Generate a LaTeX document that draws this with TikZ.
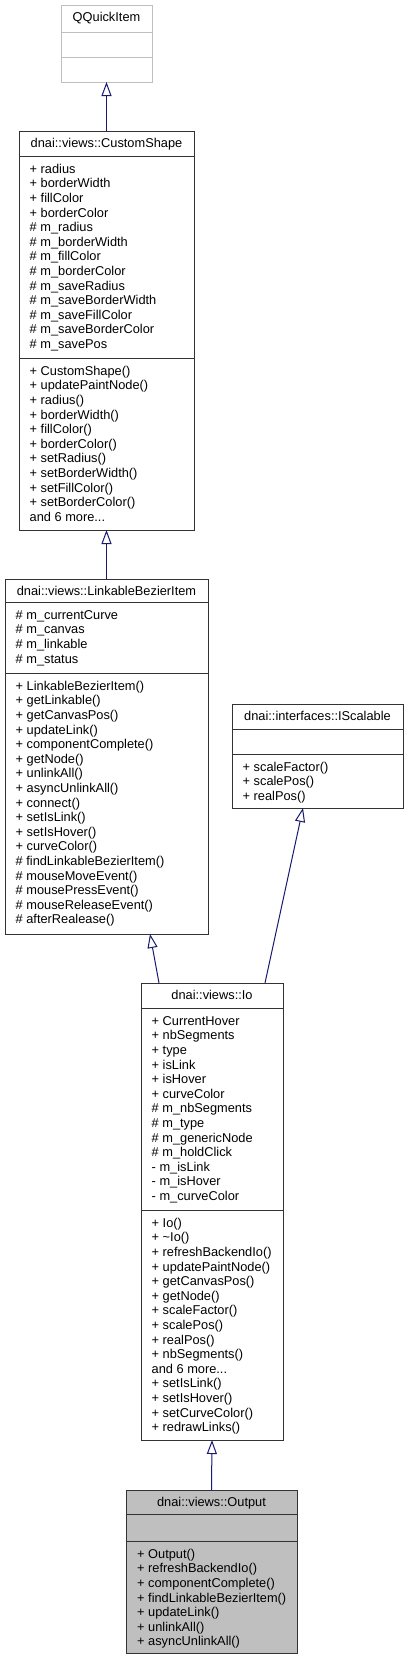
\documentclass[tikz,border=0pt]{standalone}
\usepackage{fontspec}
\setmainfont{Liberation Sans}
\usetikzlibrary{arrows.meta}
\definecolor{edgeblue}{HTML}{191970}
\definecolor{boxline}{HTML}{333333}
\definecolor{extline}{HTML}{BFBFBF}
\definecolor{curfill}{HTML}{BFBFBF}
\newcommand\umlfont{\fontsize{12.8pt}{14.6pt}\selectfont}
\newcommand\ms{\rule[-4.4pt]{0pt}{14.6pt}}
\begin{document}
\begin{tikzpicture}[x=1pt,y=-1pt,
  cls/.style={draw=boxline, line width=1pt, fill=white, rectangle, inner sep=0pt, outer sep=0pt, anchor=north west},
  sepline/.style={draw=boxline, line width=1pt},
  ttl/.style={font=\umlfont, anchor=base, inner sep=0pt},
  mem/.style={font=\umlfont, align=left, anchor=north west, inner sep=0pt},
  inh/.style={draw=edgeblue, line width=1pt, -{Triangle[open, length=14pt, width=10pt]}}]
\fill[white] (0,0) rectangle (408,1660);
\useasboundingbox (0,0) rectangle (408,1660);

% QQuickItem
\node[cls, draw=extline, minimum width=91pt, minimum height=77pt] (qq) at (61,5) {};
\draw[sepline, draw=extline] (qq.west |- 0,32) -- (qq.east |- 0,32);
\draw[sepline, draw=extline] (qq.west |- 0,57) -- (qq.east |- 0,57);
\node[ttl] (qq-t) at (106.5,21.5) {QQuickItem};

% CustomShape
\node[cls, minimum width=175pt, minimum height=399pt] (cs) at (19,131) {};
\draw[sepline] (cs.west |- 0,156) -- (cs.east |- 0,156);
\draw[sepline] (cs.west |- 0,358) -- (cs.east |- 0,358);
\node[ttl] (cs-t) at (106.5,147.5) {dnai::views::CustomShape};
\node[mem] (cs-a) at (29.5,162.8) {\ms+ radius\\\ms+ borderWidth\\\ms+ fillColor\\\ms+ borderColor\\\ms\# m\_radius\\\ms\# m\_borderWidth\\\ms\# m\_fillColor\\\ms\# m\_borderColor\\\ms\# m\_saveRadius\\\ms\# m\_saveBorderWidth\\\ms\# m\_saveFillColor\\\ms\# m\_saveBorderColor\\\ms\# m\_savePos};
\node[mem] (cs-m) at (29.5,364.8) {\ms+ CustomShape()\\\ms+ updatePaintNode()\\\ms+ radius()\\\ms+ borderWidth()\\\ms+ fillColor()\\\ms+ borderColor()\\\ms+ setRadius()\\\ms+ setBorderWidth()\\\ms+ setFillColor()\\\ms+ setBorderColor()\\\ms and 6 more...};

% LinkableBezierItem
\node[cls, minimum width=203pt, minimum height=355pt] (lbi) at (5,579) {};
\draw[sepline] (lbi.west |- 0,602) -- (lbi.east |- 0,602);
\draw[sepline] (lbi.west |- 0,673) -- (lbi.east |- 0,673);
\node[ttl] (lbi-t) at (106.5,595.5) {dnai::views::LinkableBezierItem};
\node[mem] (lbi-a) at (15.5,608.8) {\ms\# m\_currentCurve\\\ms\# m\_canvas\\\ms\# m\_linkable\\\ms\# m\_status};
\node[mem] (lbi-m) at (15.5,679.8) {\ms+ LinkableBezierItem()\\\ms+ getLinkable()\\\ms+ getCanvasPos()\\\ms+ updateLink()\\\ms+ componentComplete()\\\ms+ getNode()\\\ms+ unlinkAll()\\\ms+ asyncUnlinkAll()\\\ms+ connect()\\\ms+ setIsLink()\\\ms+ setIsHover()\\\ms+ curveColor()\\\ms\# findLinkableBezierItem()\\\ms\# mouseMoveEvent()\\\ms\# mousePressEvent()\\\ms\# mouseReleaseEvent()\\\ms\# afterRealease()};

% IScalable
\node[cls, minimum width=171pt, minimum height=104pt] (isc) at (232,704) {};
\draw[sepline] (isc.west |- 0,729) -- (isc.east |- 0,729);
\draw[sepline] (isc.west |- 0,754) -- (isc.east |- 0,754);
\node[ttl] (isc-t) at (317.5,720.5) {dnai::interfaces::IScalable};
\node[mem] (isc-m) at (242.5,760.8) {\ms+ scaleFactor()\\\ms+ scalePos()\\\ms+ realPos()};

% Io
\node[cls, minimum width=142pt, minimum height=457pt] (io) at (141,983) {};
\draw[sepline] (io.west |- 0,1008) -- (io.east |- 0,1008);
\draw[sepline] (io.west |- 0,1210) -- (io.east |- 0,1210);
\node[ttl] (io-t) at (212,999.5) {dnai::views::Io};
\node[mem] (io-a) at (151.5,1014.8) {\ms+ CurrentHover\\\ms+ nbSegments\\\ms+ type\\\ms+ isLink\\\ms+ isHover\\\ms+ curveColor\\\ms\# m\_nbSegments\\\ms\# m\_type\\\ms\# m\_genericNode\\\ms\# m\_holdClick\\\ms- m\_isLink\\\ms- m\_isHover\\\ms- m\_curveColor};
\node[mem] (io-m) at (151.5,1216.8) {\ms+ Io()\\\ms+ \textasciitilde Io()\\\ms+ refreshBackendIo()\\\ms+ updatePaintNode()\\\ms+ getCanvasPos()\\\ms+ getNode()\\\ms+ scaleFactor()\\\ms+ scalePos()\\\ms+ realPos()\\\ms+ nbSegments()\\\ms and 6 more...\\\ms+ setIsLink()\\\ms+ setIsHover()\\\ms+ setCurveColor()\\\ms+ redrawLinks()};

% Output
\node[cls, fill=curfill, minimum width=171pt, minimum height=163pt] (out) at (126,1490) {};
\draw[sepline] (out.west |- 0,1514) -- (out.east |- 0,1514);
\draw[sepline] (out.west |- 0,1541) -- (out.east |- 0,1541);
\node[ttl] (out-t) at (211.5,1506.5) {dnai::views::Output};
\node[mem] (out-m) at (137,1547.8) {\ms+ Output()\\\ms+ refreshBackendIo()\\\ms+ componentComplete()\\\ms+ findLinkableBezierItem()\\\ms+ updateLink()\\\ms+ unlinkAll()\\\ms+ asyncUnlinkAll()};

% inheritance arrows
\draw[inh] (cs.north) -- (qq.south);
\draw[inh] (lbi.north) -- (cs.south);
\draw[inh] ([xshift=18pt]io.north west) -- ([xshift=-58pt]lbi.south east);
\draw[inh] ([xshift=-18pt]io.north east) -- ([xshift=71pt]isc.south west);
\draw[inh] (out.north) -- (io.south);
\end{tikzpicture}
\end{document}
